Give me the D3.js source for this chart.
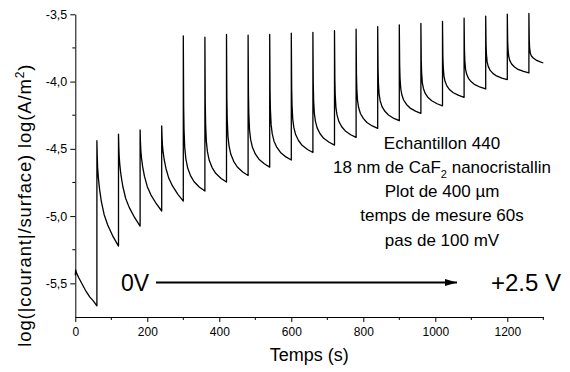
<!DOCTYPE html>
<html>
<head>
<meta charset="utf-8">
<script src="https://cdn.jsdelivr.net/npm/d3@7"></script>
<style>
  html, body { margin: 0; padding: 0; background: #fff; }
  svg { display: block; font-family: Arial, "Liberation Sans", sans-serif; }
</style>
</head>
<body>
<svg id="chart" width="570" height="372"></svg>
<script>
// ---- Data ----
const xTickValues = [0, 200, 400, 600, 800, 1000, 1200];
const xTickLabels = ["0", "200", "400", "600", "800", "1000", "1200"];
const yTickValues = [-3.5, -4.0, -4.5, -5.0, -5.5];
const yTickLabels = ["-3,5", "-4,0", "-4,5", "-5,0", "-5,5"];

// initial segment at 0 V
const initTimes = [0, 1, 3, 10, 20, 30, 40, 50, 60];
const initValues = [-5.44, -5.40, -5.42, -5.46, -5.51, -5.56, -5.60, -5.63, -5.667];

// each voltage step (every 60 s): values sampled at these seconds after the step
const offsets = [0, 1, 2, 4, 7, 12, 20, 30, 45, 60];
const lastOffsets = [0, 1, 2, 4, 7, 12, 20, 30, 40];
const stepTimes = [60, 120, 180, 240, 300, 360, 420, 480, 540, 600, 660, 720,
                   780, 840, 900, 960, 1020, 1080, 1140, 1200, 1260];
const pulses = [
  [-4.44, -4.557, -4.636, -4.714, -4.792, -4.886, -4.988, -5.066, -5.153, -5.223],
  [-4.39, -4.493, -4.561, -4.629, -4.698, -4.780, -4.869, -4.937, -5.012, -5.074],
  [-4.36, -4.450, -4.511, -4.571, -4.631, -4.703, -4.781, -4.842, -4.908, -4.962],
  [-4.33, -4.414, -4.470, -4.525, -4.581, -4.648, -4.721, -4.776, -4.838, -4.888],
  [-3.66, -4.179, -4.352, -4.491, -4.572, -4.641, -4.699, -4.745, -4.785, -4.814],
  [-3.67, -4.155, -4.316, -4.445, -4.521, -4.585, -4.639, -4.682, -4.720, -4.747],
  [-3.65, -4.122, -4.279, -4.405, -4.478, -4.541, -4.593, -4.635, -4.672, -4.698],
  [-3.655, -4.096, -4.244, -4.361, -4.430, -4.489, -4.538, -4.577, -4.611, -4.636],
  [-3.65, -4.070, -4.210, -4.322, -4.387, -4.443, -4.490, -4.527, -4.560, -4.583],
  [-3.641, -4.040, -4.173, -4.279, -4.341, -4.394, -4.438, -4.474, -4.505, -4.527],
  [-3.634, -4.011, -4.137, -4.237, -4.296, -4.346, -4.388, -4.422, -4.451, -4.472],
  [-3.622, -3.979, -4.098, -4.193, -4.248, -4.296, -4.336, -4.367, -4.395, -4.415],
  [-3.611, -3.943, -4.053, -4.142, -4.193, -4.237, -4.274, -4.304, -4.330, -4.348],
  [-3.592, -3.907, -4.011, -4.095, -4.144, -4.186, -4.221, -4.249, -4.274, -4.291],
  [-3.578, -3.874, -3.973, -4.052, -4.098, -4.137, -4.170, -4.197, -4.220, -4.236],
  [-3.568, -3.843, -3.935, -4.009, -4.051, -4.088, -4.119, -4.143, -4.165, -4.180],
  [-3.552, -3.806, -3.891, -3.959, -3.998, -4.032, -4.061, -4.083, -4.103, -4.117],
  [-3.528, -3.765, -3.844, -3.907, -3.944, -3.976, -4.002, -4.023, -4.042, -4.055],
  [-3.514, -3.726, -3.797, -3.854, -3.887, -3.915, -3.939, -3.958, -3.974, -3.986],
  [-3.499, -3.696, -3.761, -3.814, -3.844, -3.870, -3.892, -3.910, -3.925, -3.936],
  [-3.494, -3.690, -3.750, -3.790, -3.810, -3.825, -3.840, -3.852, -3.862]
];

const annotationLines = ["Echantillon 440", "18 nm de CaF", "Plot de 400 µm", "temps de mesure 60s", "pas de 100 mV"];

// ---- Build series ----
const series = [];
initTimes.forEach((t, i) => series.push({ t: t, v: initValues[i] }));
pulses.forEach((vals, k) => {
  const offs = (k === pulses.length - 1) ? lastOffsets : offsets;
  vals.forEach((v, i) => series.push({ t: stepTimes[k] + offs[i], v: v }));
});

// ---- Layout ----
const svg = d3.select("#chart");
const mLeft = 75.3, mRight = 543.3, mTop = 14.3, mBottom = 317;
const x = d3.scaleLinear().domain([0, 1300]).range([mLeft, mRight]);
const y = d3.scaleLinear().domain([-5.75, -3.5]).range([mBottom, mTop]);

// minor ticks
const xMinor = [100, 300, 500, 700, 900, 1100, 1300];
const yMinor = [-3.75, -4.25, -4.75, -5.25];

const gx = svg.append("g").attr("transform", `translate(0,${mBottom})`);
gx.call(d3.axisBottom(x).tickValues(xTickValues)
  .tickFormat((d, i) => xTickLabels[i]).tickSizeInner(5).tickSizeOuter(0).tickPadding(5));
gx.selectAll(".minor").data(xMinor).enter().append("line")
  .attr("x1", d => x(d)).attr("x2", d => x(d)).attr("y1", 0).attr("y2", 3)
  .attr("stroke", "#000");

const gy = svg.append("g").attr("transform", `translate(${mLeft},0)`);
gy.call(d3.axisLeft(y).tickValues(yTickValues)
  .tickFormat((d, i) => yTickLabels[i]).tickSizeInner(5).tickSizeOuter(0).tickPadding(3));
gy.selectAll(".minor").data(yMinor).enter().append("line")
  .attr("y1", d => y(d)).attr("y2", d => y(d)).attr("x1", 0).attr("x2", -3)
  .attr("stroke", "#000");

svg.selectAll(".tick text").attr("font-size", 12).attr("fill", "#000")
  .attr("font-family", 'Arial, "Liberation Sans", sans-serif');
gy.selectAll(".tick text").attr("font-size", 12.5);
svg.selectAll(".domain, .tick line").attr("stroke", "#000");

// axis titles
svg.append("text").attr("x", (mLeft + mRight) / 2).attr("y", 361)
  .attr("text-anchor", "middle").attr("font-size", 18).text("Temps (s)");

const yl = svg.append("text")
  .attr("transform", `translate(31,${(mTop + mBottom) / 2 + 40}) rotate(-90)`)
  .attr("text-anchor", "middle").attr("font-size", 18.5)
  .attr("textLength", 282).attr("lengthAdjust", "spacing");
yl.append("tspan").text("log(|courant|/surface) log(A/m");
yl.append("tspan").attr("font-size", 12).attr("dy", -7).text("2");
yl.append("tspan").attr("dy", 7).text(")");

// data line
svg.append("path").datum(series)
  .attr("fill", "none").attr("stroke", "#000").attr("stroke-width", 1.3)
  .attr("stroke-linejoin", "round")
  .attr("d", d3.line().x(d => x(d.t)).y(d => y(d.v)));

// annotation text block
const ax = 442, ay0 = 148.5, dyl = 24.3;
annotationLines.forEach((s, i) => {
  const t = svg.append("text").attr("x", ax).attr("y", ay0 + i * dyl)
    .attr("text-anchor", "middle").attr("font-size", 17);
  if (i === 1) {
    t.append("tspan").text(s);
    t.append("tspan").attr("font-size", 11).attr("dy", 5).text("2");
    t.append("tspan").attr("dy", -5).text(" nanocristallin");
  } else {
    t.text(s);
  }
});

// arrow 0V -> +2.5V
svg.append("defs").append("marker").attr("id", "ah")
  .attr("viewBox", "0 0 12 8").attr("refX", 12).attr("refY", 4)
  .attr("markerWidth", 12).attr("markerHeight", 8).attr("markerUnits", "userSpaceOnUse")
  .attr("orient", "auto")
  .append("path").attr("d", "M0,0.5 L12,4 L0,7.5 Z").attr("fill", "#000");
svg.append("line")
  .attr("x1", 156).attr("x2", 457)
  .attr("y1", 282.5).attr("y2", 282.5)
  .attr("stroke", "#000").attr("stroke-width", 2).attr("marker-end", "url(#ah)");
svg.append("text").attr("x", 121).attr("y", 290.5).attr("font-size", 23).text("0V");
svg.append("text").attr("x", 491).attr("y", 290.5).attr("font-size", 24).text("+2.5 V");
</script>
</body>
</html>
